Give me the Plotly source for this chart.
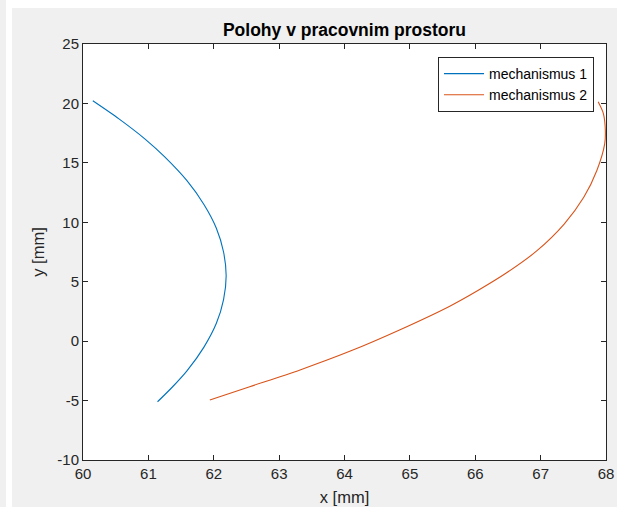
import plotly.graph_objects as go

# mechanismus 1 (blue)
x1 = [60.15, 60.55, 60.95, 61.25, 61.59, 61.85, 62.04, 62.15, 62.19, 62.15, 62.04, 61.85, 61.59, 61.36, 61.14]
y1 = [20.22, 18.7, 17.0, 15.5, 13.5, 11.5, 9.5, 7.5, 5.5, 3.5, 1.5, -0.5, -2.5, -3.9, -5.1]

# mechanismus 2 (orange)
x2 = [61.94, 62.55, 63.32, 64.08, 64.85, 65.61, 66.04, 66.48, 66.94, 67.36, 67.66, 67.86, 67.98, 67.99, 67.96, 67.88]
y2 = [-4.95, -3.83, -2.42, -0.86, 0.96, 2.94, 4.26, 5.75, 7.59, 9.85, 12.1, 14.36, 16.6, 17.7, 19.15, 20.14]

x_ticks = [60, 61, 62, 63, 64, 65, 66, 67, 68]
y_ticks = [-10, -5, 0, 5, 10, 15, 20, 25]

font = "Liberation Sans, Arial, Helvetica, sans-serif"
axcol = "#262626"

W, H = 617, 507
L, R, T, B = 83, 11, 44, 47
pw, ph = W - L - R, H - T - B


def px2x(p):
    return (p - L) / pw


def py2y(p):
    return 1 - (p - T) / ph


fig = go.Figure()
fig.add_trace(go.Scatter(x=x1, y=y1, mode="lines", name="mechanismus 1",
                         line=dict(color="#0072BD", width=1.1, shape="spline", smoothing=0.8)))
fig.add_trace(go.Scatter(x=x2, y=y2, mode="lines", name="mechanismus 2",
                         line=dict(color="#D95319", width=1.1, shape="spline", smoothing=0.8)))

axis_common = dict(showline=True, linecolor=axcol, linewidth=1, mirror="ticks",
                   ticks="inside", ticklen=5, tickcolor=axcol, showgrid=False,
                   zeroline=False, automargin=False,
                   tickfont=dict(family=font, size=15, color=axcol))

fig.update_layout(
    width=W, height=H,
    margin=dict(l=L, r=R, t=T, b=B, autoexpand=False),
    paper_bgcolor="#f0f0f0", plot_bgcolor="white",
    font=dict(family=font, color=axcol),
    title=dict(text="<b>Polohy v pracovnim prostoru</b>", x=(222 + 467) / 2 / W, xanchor="center",
               y=1 - 30 / H, yanchor="middle", font=dict(size=17.5, color="black")),
    xaxis=dict(range=[60, 68], tickvals=x_ticks, ticktext=[str(v) for v in x_ticks],
               title=dict(text="x [mm]", font=dict(size=16.5, color=axcol), standoff=10),
               **axis_common),
    yaxis=dict(range=[-10, 25], tickvals=y_ticks, ticktext=[str(v) for v in y_ticks],
               title=dict(text="y [mm]", font=dict(size=16.5, color=axcol), standoff=8),
               **axis_common),
    legend=dict(x=px2x(594), y=py2y(57), xanchor="right", yanchor="top",
                bgcolor="white", bordercolor=axcol, borderwidth=1,
                font=dict(family=font, size=14, color="black"),
                tracegroupgap=0, itemwidth=40),
    showlegend=True,
    shapes=[
        dict(type="rect", xref="paper", yref="paper", layer="below",
             x0=px2x(6), x1=px2x(12), y0=py2y(H), y1=py2y(0),
             fillcolor="white", line=dict(width=0)),
        dict(type="rect", xref="paper", yref="paper", layer="below",
             x0=px2x(12), x1=px2x(W), y0=py2y(8), y1=py2y(0),
             fillcolor="white", line=dict(width=0)),
    ],
)

fig.write_html("out.html")
